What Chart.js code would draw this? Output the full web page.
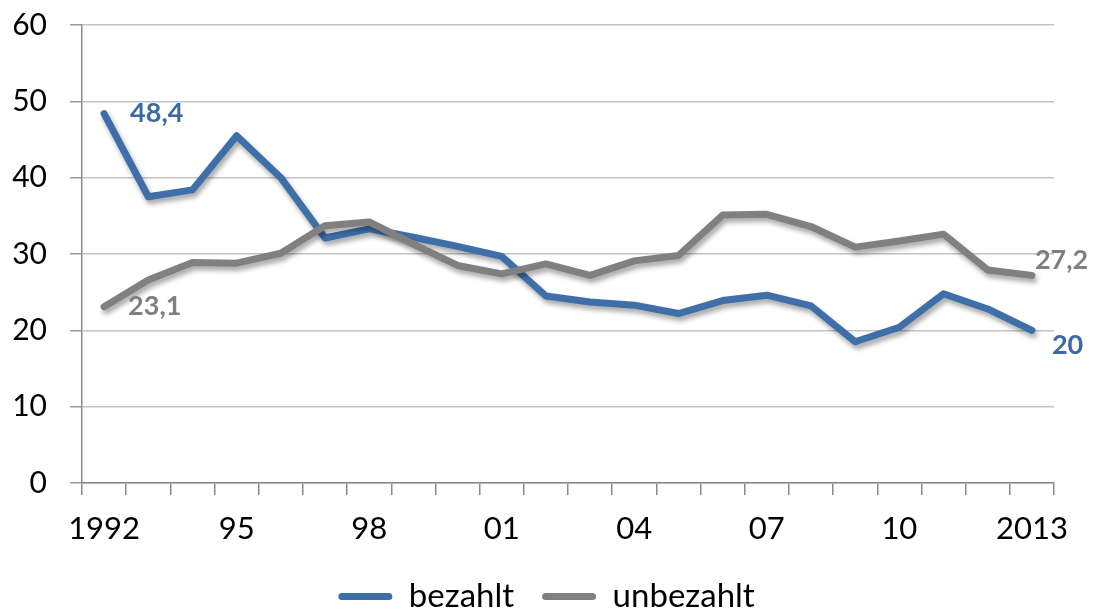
<!DOCTYPE html>
<html>
<head>
<meta charset="utf-8">
<script src="https://cdn.jsdelivr.net/npm/chart.js@4.4.1/dist/chart.umd.min.js"></script>
<style>
html,body{margin:0;padding:0;background:#fff;}
#wrap{width:1093px;height:615px;position:relative;}
</style>
</head>
<body>
<div id="wrap"><canvas id="c"></canvas></div>
<script>
const years = ['1992','1993','1994','1995','1996','1997','1998','1999','2000','2001','2002','2003','2004','2005','2006','2007','2008','2009','2010','2011','2012','2013'];
const tickLabels = ['1992','','','95','','','98','','','01','','','04','','','07','','','10','','','2013'];
const bezahlt = [48.4,37.5,38.4,45.5,40.0,32.1,33.3,32.2,31.0,29.7,24.5,23.7,23.3,22.2,23.9,24.6,23.2,18.5,20.4,24.8,22.8,20.0];
const unbezahlt = [23.1,26.6,28.9,28.8,30.1,33.7,34.2,31.3,28.5,27.4,28.7,27.2,29.1,29.8,35.1,35.2,33.6,30.9,31.7,32.6,27.9,27.2];
const seriesNames = ['bezahlt','unbezahlt'];

const BLUE = '#3F6FA9';
const GRAY = '#808080';
const FONT = 'Lato, "Open Sans", sans-serif';

const shadowPlugin = {
  id: 'shadow',
  beforeDatasetDraw(chart) {
    const ctx = chart.ctx;
    ctx.save();
    ctx.shadowColor = 'rgba(0,0,0,0.35)';
    ctx.shadowBlur = 5;
    ctx.shadowOffsetX = 2;
    ctx.shadowOffsetY = 4;
  },
  afterDatasetDraw(chart) {
    chart.ctx.restore();
  }
};

const fmt = v => String(v).replace('.', ',');

const endLabels = {
  id: 'endLabels',
  afterDatasetsDraw(chart) {
    const ctx = chart.ctx;
    const specs = [
      {ds: 0, first: true, dx: 26, dy: 0, color: '#3B69A3'},
      {ds: 1, first: true, dx: 24, dy: 0, color: '#7F7F7F'},
      {ds: 1, first: false, dx: 3, dy: -15, color: '#7F7F7F'},
      {ds: 0, first: false, dx: 20, dy: 15, color: '#3B69A3'}
    ];
    ctx.save();
    ctx.font = 'bold 27px ' + FONT;
    ctx.textAlign = 'left';
    ctx.textBaseline = 'middle';
    specs.forEach(s => {
      const meta = chart.getDatasetMeta(s.ds);
      const data = chart.data.datasets[s.ds].data;
      const idx = s.first ? 0 : data.length - 1;
      const el = meta.data[idx];
      ctx.fillStyle = s.color;
      ctx.fillText(fmt(data[idx]), el.x + s.dx, el.y + s.dy);
    });
    ctx.restore();
  }
};

new Chart(document.getElementById('c'), {
  type: 'line',
  data: {
    labels: years,
    datasets: [
      {label: seriesNames[0], data: bezahlt, borderColor: BLUE, backgroundColor: BLUE, borderWidth: 7, pointRadius: 0, tension: 0, borderCapStyle: 'round', borderJoinStyle: 'round', order: 1},
      {label: seriesNames[1], data: unbezahlt, borderColor: GRAY, backgroundColor: GRAY, borderWidth: 7, pointRadius: 0, tension: 0, borderCapStyle: 'round', borderJoinStyle: 'round', order: 0}
    ]
  },
  options: {
    responsive: true,
    maintainAspectRatio: false,
    animation: false,
    layout: {padding: {left: 0, top: 25, right: 0, bottom: -8}},
    scales: {
      x: {
        offset: true,
        grid: {offset: true, drawOnChartArea: false, tickLength: 12, color: '#8a8a8a', lineWidth: 1.5},
        border: {color: '#8a8a8a', width: 1.5},
        ticks: {autoSkip: false, maxRotation: 0, minRotation: 0, callback: (v, i) => tickLabels[i], font: {family: FONT, size: 31}, color: '#000', padding: 15},
        afterFit(s) { s.height = 69; s.paddingLeft = 0; s.paddingRight = 39; }
      },
      y: {
        min: 0, max: 60,
        ticks: {stepSize: 10, font: {family: FONT, size: 30}, color: '#000', padding: 23},
        grid: {color: '#c4c4c4', lineWidth: 1.5, tickLength: 12, tickColor: '#999'},
        border: {color: '#8a8a8a', width: 1.5},
        afterFit(s) { s.width = 82; s.paddingTop = 12; s.paddingBottom = 12; }
      }
    },
    plugins: {
      tooltip: {enabled: false},
      legend: {
        position: 'bottom',
        labels: {
          boxWidth: 54, boxHeight: 7, useBorderRadius: true, borderRadius: 3.5,
          font: {family: FONT, size: 33}, color: '#000', padding: 28,
          sort: (a, b) => a.datasetIndex - b.datasetIndex,
          generateLabels: chart => Chart.defaults.plugins.legend.labels.generateLabels(chart).map(l => Object.assign(l, {fillStyle: l.strokeStyle, lineWidth: 0}))
        }
      }
    }
  },
  plugins: [shadowPlugin, endLabels]
});
</script>
</body>
</html>
